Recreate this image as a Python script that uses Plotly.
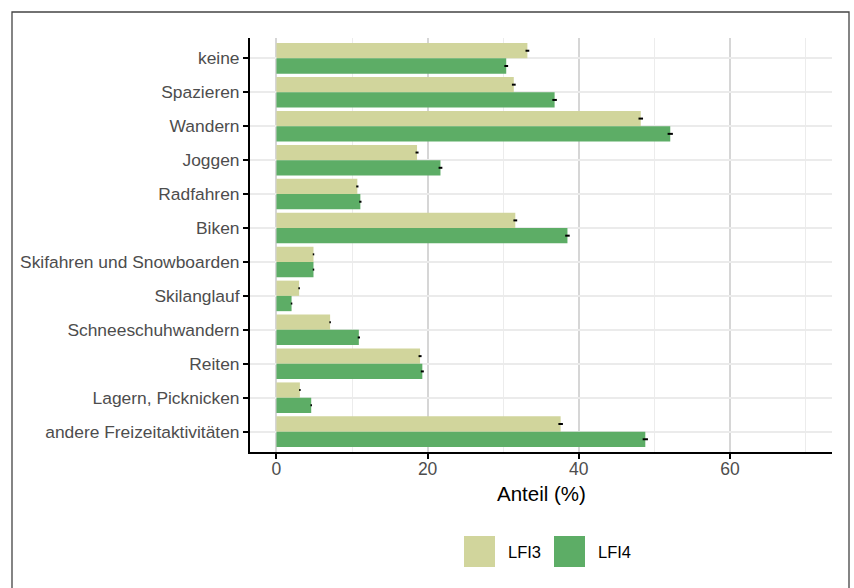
import plotly.graph_objects as go

categories = ["keine", "Spazieren", "Wandern", "Joggen", "Radfahren", "Biken",
              "Skifahren und Snowboarden", "Skilanglauf", "Schneeschuhwandern",
              "Reiten", "Lagern, Picknicken", "andere Freizeitaktivitäten"]
lfi3 = [33.2, 31.4, 48.2, 18.6, 10.7, 31.6, 4.9, 3.0, 7.1, 19.0, 3.1, 37.6]
lfi4 = [30.4, 36.8, 52.1, 21.7, 11.1, 38.5, 4.9, 2.0, 10.9, 19.3, 4.6, 48.8]
lfi3_err = [0.25, 0.25, 0.3, 0.2, 0.15, 0.25, 0.1, 0.1, 0.1, 0.2, 0.1, 0.3]
lfi4_err = [0.25, 0.3, 0.35, 0.25, 0.15, 0.3, 0.1, 0.1, 0.15, 0.2, 0.1, 0.35]
series_names = ["LFI3", "LFI4"]
colors = ["#d1d59c", "#5dad66"]
x_ticks = [0, 20, 40, 60]

FONT = "Liberation Sans, Arial, sans-serif"

fig = go.Figure()
for name, vals, errs, col in zip(series_names, [lfi3, lfi4], [lfi3_err, lfi4_err], colors):
    fig.add_trace(go.Bar(
        y=categories, x=vals, name=name, orientation="h",
        marker=dict(color=col, line=dict(width=0)),
        error_x=dict(type="data", array=errs, color="black", thickness=2, width=0),
        showlegend=False,
    ))

W, H = 854, 588
L, R, T, B = 250, 22, 38, 136
pw, ph = W - L - R, H - T - B

def px(x):
    return (x - L) / pw

def py(y):
    return (H - B - y) / ph

shapes = [
    # outer border
    dict(type="rect", xref="paper", yref="paper", x0=px(12), x1=px(849), y0=py(600), y1=py(12),
         line=dict(color="#444444", width=1.3), fillcolor="rgba(0,0,0,0)", layer="below"),
]
annotations = [
    dict(text="Anteil (%)", xref="paper", yref="paper", x=0.5, y=py(493), showarrow=False,
         xanchor="center", yanchor="middle", font=dict(size=20.5, color="black", family=FONT)),
]
# manual legend
leg_x = [464, 554]
for i, (name, col) in enumerate(zip(series_names, colors)):
    shapes.append(dict(type="rect", xref="paper", yref="paper",
                       x0=px(leg_x[i]), x1=px(leg_x[i] + 31), y0=py(567), y1=py(536),
                       fillcolor=col, line=dict(width=0)))
    annotations.append(dict(text=name, xref="paper", yref="paper", x=px(leg_x[i] + 42), y=py(551.5),
                            showarrow=False, xanchor="left", yanchor="middle",
                            font=dict(size=16.5, color="black", family=FONT)))

fig.update_layout(
    width=W, height=H,
    margin=dict(l=L, r=R, t=T, b=B),
    paper_bgcolor="white", plot_bgcolor="white",
    barmode="group", bargap=0.1, bargroupgap=0,
    font=dict(family=FONT, size=17, color="#4d4d4d"),
    shapes=shapes, annotations=annotations,
    xaxis=dict(range=[-3.5, 73.5], tickvals=x_ticks, ticks="outside", ticklen=5, tickwidth=2,
               tickcolor="black", showline=True, linecolor="black", linewidth=2,
               ticklabelstandoff=-5,
               showgrid=True, gridcolor="#d6d6d6", gridwidth=2, zeroline=False,
               minor=dict(tickvals=[10, 30, 50, 70], showgrid=True, gridcolor="#ececec", gridwidth=1),
               tickfont=dict(size=17.5, color="#4d4d4d")),
    yaxis=dict(categoryorder="array", categoryarray=categories, range=[11.6, -0.6],
               ticks="outside", ticklen=5, tickwidth=2, tickcolor="black",
               showline=True, linecolor="black", linewidth=2,
               showgrid=True, gridcolor="#ebebeb", gridwidth=2,
               tickfont=dict(size=17.4, color="#4d4d4d")),
)

fig.write_html("out.html", config={"displayModeBar": False},
               post_script="document.body.style.margin='0';document.body.style.overflow='hidden';")
